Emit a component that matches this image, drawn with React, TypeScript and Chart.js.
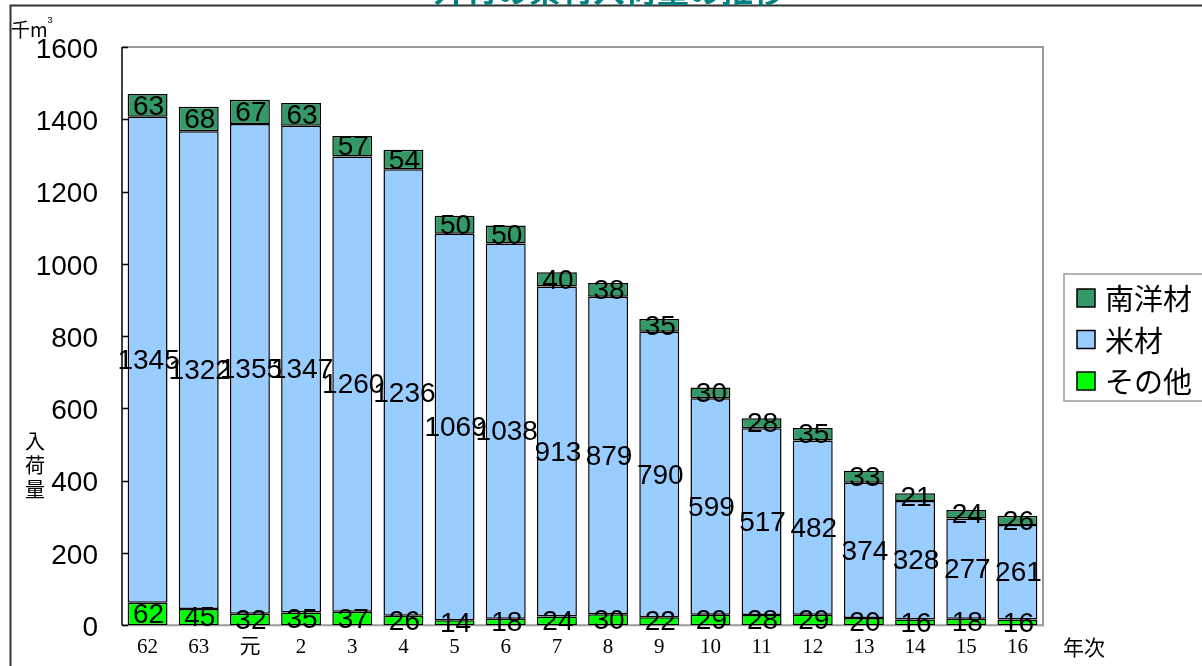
import React, { useEffect, useRef } from 'react';
import { Chart, registerables } from 'chart.js';

Chart.register(...registerables);

const categories = ['62', '63', '元', '2', '3', '4', '5', '6', '7', '8', '9', '10', '11', '12', '13', '14', '15', '16'];
const sonota = [62, 45, 32, 35, 37, 26, 14, 18, 24, 30, 22, 29, 28, 29, 20, 16, 18, 16];
const beizai = [1345, 1322, 1355, 1347, 1260, 1236, 1069, 1038, 913, 879, 790, 599, 517, 482, 374, 328, 277, 261];
const nanyozai = [63, 68, 67, 63, 57, 54, 50, 50, 40, 38, 35, 30, 28, 35, 33, 21, 24, 26];
const seriesNames = ['その他', '米材', '南洋材'];
const seriesColors = ['#00ff00', '#99ccff', '#339966'];
const yMin = 0;
const yMax = 1600;
const yStep = 200;
const titleText = '外材の素材入荷量の推移';
const unitText = '千m';
const yTitleChars = ['入', '荷', '量'];
const xTitleText = '年次';

const NUM_FONT = '"Liberation Sans", Arial, sans-serif';
const CJK_FONT = '"Noto Sans CJK JP", "Liberation Sans", sans-serif';
const SERIF_FONT = '"Liberation Serif", "DejaVu Serif", "Noto Sans CJK JP", serif';

const overlayPlugin = {
  id: 'overlay',
  beforeDatasetsDraw(chart: any) {
    const { ctx, chartArea } = chart;
    const { left, right, top, bottom } = chartArea;
    ctx.save();
    ctx.strokeStyle = '#9a9a9a';
    ctx.lineWidth = 2;
    ctx.beginPath();
    ctx.moveTo(left, top);
    ctx.lineTo(right, top);
    ctx.lineTo(right, bottom);
    ctx.lineTo(left, bottom);
    ctx.stroke();
    ctx.restore();
  },
  afterDatasetsDraw(chart: any) {
    const { ctx, chartArea } = chart;
    const { left, top, bottom } = chartArea;
    ctx.save();
    const yScale = chart.scales.y;
    ctx.strokeStyle = '#000';
    ctx.lineWidth = 1.5;
    ctx.beginPath();
    ctx.moveTo(left, top);
    ctx.lineTo(left, bottom);
    yScale.ticks.forEach((t: any) => {
      const y = Math.round(yScale.getPixelForValue(t.value)) + 0.5;
      ctx.moveTo(left, y);
      ctx.lineTo(left + 6, y);
    });
    ctx.stroke();

    ctx.fillStyle = '#000';
    ctx.font = `28px ${NUM_FONT}`;
    ctx.textAlign = 'center';
    ctx.textBaseline = 'middle';
    chart.data.datasets.forEach((ds: any, di: number) => {
      const meta = chart.getDatasetMeta(di);
      meta.data.forEach((bar: any, i: number) => {
        const cy = (bar.y + bar.base) / 2 + 1.5;
        ctx.fillText(String(ds.data[i]), bar.x + 1, cy);
      });
    });
    ctx.restore();
  },
  afterDraw(chart: any) {
    const { ctx } = chart;
    ctx.save();
    ctx.strokeStyle = '#333';
    ctx.lineWidth = 2;
    ctx.beginPath();
    ctx.moveTo(10.5, 666);
    ctx.lineTo(10.5, 5.5);
    ctx.lineTo(1202, 5.5);
    ctx.stroke();

    ctx.fillStyle = '#008080';
    ctx.font = `bold 32px ${CJK_FONT}`;
    ctx.textAlign = 'center';
    ctx.textBaseline = 'alphabetic';
    ctx.fillText(titleText, 609, 2);

    ctx.fillStyle = '#000';
    ctx.textAlign = 'left';
    ctx.textBaseline = 'alphabetic';
    ctx.font = `19px ${CJK_FONT}`;
    ctx.fillText(unitText, 11, 37);
    const uw = ctx.measureText(unitText).width;
    ctx.font = `9px ${NUM_FONT}`;
    ctx.fillText('3', 11 + uw, 23);

    ctx.font = `20px ${CJK_FONT}`;
    ctx.textAlign = 'center';
    ctx.textBaseline = 'middle';
    yTitleChars.forEach((c, i) => {
      ctx.fillText(c, 35, 441 + i * 24);
    });

    ctx.font = `21px ${CJK_FONT}`;
    ctx.textAlign = 'left';
    ctx.fillText(xTitleText, 1063, 647);

    const lx = 1064;
    const ly = 274;
    ctx.strokeStyle = '#999';
    ctx.lineWidth = 1.5;
    ctx.strokeRect(lx, ly, 160, 127);
    const order = [2, 1, 0];
    order.forEach((di, k) => {
      const ds = chart.data.datasets[di];
      const cy = 298 + k * 41.5;
      ctx.fillStyle = ds.backgroundColor;
      ctx.fillRect(1077, cy - 9, 18, 18);
      ctx.strokeStyle = '#000';
      ctx.lineWidth = 1.5;
      ctx.strokeRect(1077, cy - 9, 18, 18);
      ctx.fillStyle = '#000';
      ctx.font = `29px ${CJK_FONT}`;
      ctx.textAlign = 'left';
      ctx.textBaseline = 'middle';
      ctx.fillText(ds.label, 1105, cy + 1);
    });
    ctx.restore();
  },
};

export default function App() {
  const canvasRef = useRef<HTMLCanvasElement | null>(null);

  useEffect(() => {
    if (!canvasRef.current) return;
    const datasets = [sonota, beizai, nanyozai].map((d, i) => ({
      label: seriesNames[i],
      data: d,
      backgroundColor: seriesColors[i],
      borderColor: '#000',
      borderWidth: 1.5,
      borderSkipped: false,
      categoryPercentage: 1,
      barPercentage: 0.78,
    }));
    const chart = new Chart(canvasRef.current, {
      type: 'bar',
      data: { labels: categories, datasets },
      options: {
        animation: false,
        responsive: false,
        maintainAspectRatio: false,
        layout: { padding: { top: 47, right: 159, left: 0, bottom: 0 } },
        plugins: {
          legend: { display: false },
          title: { display: false },
          tooltip: { enabled: false },
        },
        scales: {
          x: {
            stacked: true,
            grid: { display: false, drawTicks: false },
            border: { display: false },
            ticks: {
              color: '#000',
              font: { family: SERIF_FONT, size: 21 },
              padding: 10,
              maxRotation: 0,
              autoSkip: false,
            },
            afterFit: (s: any) => {
              s.height = 39;
            },
          },
          y: {
            stacked: true,
            min: yMin,
            max: yMax,
            grid: { display: false, drawTicks: false },
            border: { display: false },
            ticks: {
              stepSize: yStep,
              color: '#000',
              font: { family: NUM_FONT, size: 28 },
              padding: 24,
              labelOffset: 3,
              callback: (v: any) => String(v),
            },
            afterFit: (s: any) => {
              s.width = 122;
            },
          },
        },
      },
      plugins: [overlayPlugin],
    });
    return () => chart.destroy();
  }, []);

  return (
    <div style={{ position: 'fixed', left: 0, top: 0, width: 1202, height: 666, background: '#fff' }}>
      <canvas ref={canvasRef} width={1202} height={666} style={{ width: 1202, height: 666, display: 'block' }} />
    </div>
  );
}
